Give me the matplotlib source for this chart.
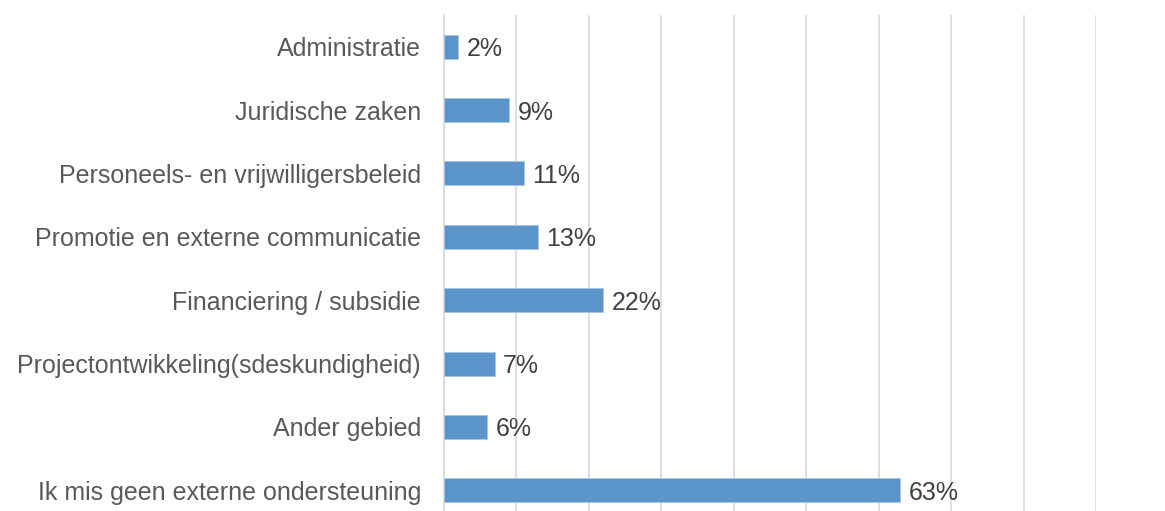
import matplotlib
matplotlib.use("Agg")
import matplotlib.pyplot as plt

categories = [
    'Administratie',
    'Juridische zaken',
    'Personeels- en vrijwilligersbeleid',
    'Promotie en externe communicatie',
    'Financiering / subsidie',
    'Projectontwikkeling(sdeskundigheid)',
    'Ander gebied',
    'Ik mis geen externe ondersteuning',
]
values = [2, 9, 11, 13, 22, 7, 6, 63]
labels = ['2%', '9%', '11%', '13%', '22%', '7%', '6%', '63%']

plt.rcParams['font.family'] = ['Liberation Sans', 'DejaVu Sans']

fig = plt.figure(figsize=(11.65, 5.11), dpi=100)
# axes runs past the bottom edge, as in the original crop
ax = fig.add_axes([444 / 1165, -11 / 511, (1096 - 444) / 1165, (522 - 15) / 511])

y = list(range(len(categories)))
ax.barh(y, values, height=0.38, color='#5B94CB', edgecolor='#A9C6E6', linewidth=0.6, zorder=3)

for yi, v, lab in zip(y, values, labels):
    ax.annotate(lab, (v, yi), xytext=(6, 0), textcoords='offset points',
                va='center_baseline', ha='left', fontsize=18, color='#404040')

ax.set_xlim(0, 90)
ax.set_ylim(len(categories) - 0.5, -0.5)
ax.set_xticks(range(0, 91, 10))
ax.set_xticklabels([])
ax.xaxis.grid(True, color='#D9D9D9', linewidth=1.2, zorder=0)
ax.tick_params(axis='x', length=0)
ax.tick_params(axis='y', length=0, pad=16.5, labelsize=18, labelcolor='#595959')
ax.set_yticks(y)
ax.set_yticklabels(categories, va='center_baseline')
for side in ['top', 'right', 'bottom']:
    ax.spines[side].set_visible(False)
ax.spines['left'].set_color('#D9D9D9')
ax.spines['left'].set_linewidth(1.2)

fig.savefig('out.png', dpi=100)
